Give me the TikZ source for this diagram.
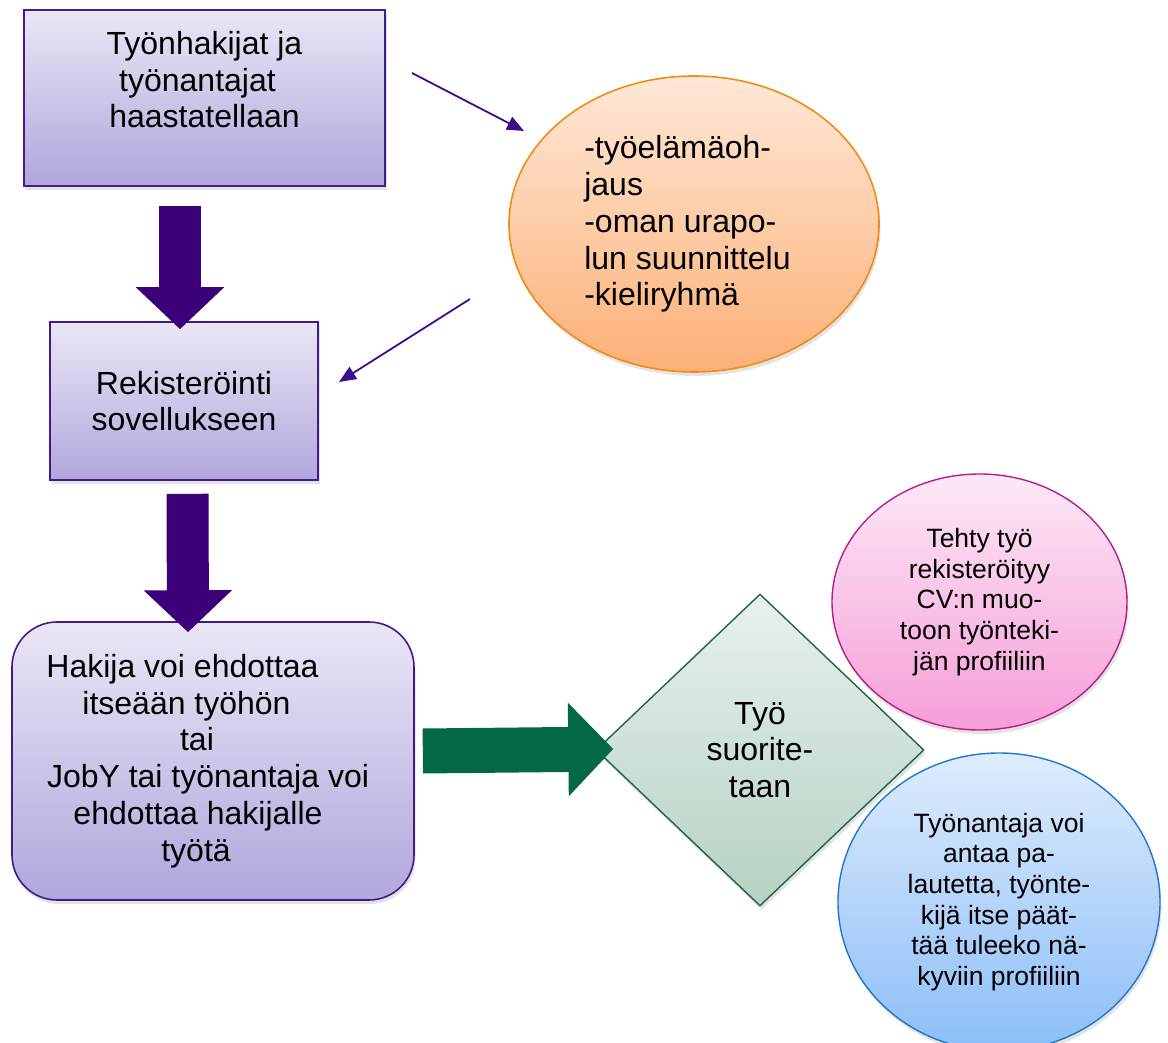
\documentclass[tikz,border=0pt]{standalone}
\usepackage{fontspec}
\setmainfont{Liberation Sans}
\usetikzlibrary{shapes.geometric,arrows.meta,shadows}
\definecolor{boxtop}{RGB}{234,230,246}
\definecolor{boxbot}{RGB}{178,166,220}
\definecolor{boxborder}{RGB}{66,26,140}
\definecolor{arrpurple}{RGB}{60,0,120}
\definecolor{thinpurple}{RGB}{62,12,140}
\definecolor{ortop}{RGB}{254,232,216}
\definecolor{orbot}{RGB}{252,176,118}
\definecolor{orborder}{RGB}{240,140,20}
\definecolor{dmtop}{RGB}{232,241,236}
\definecolor{dmbot}{RGB}{180,210,194}
\definecolor{dmborder}{RGB}{30,100,70}
\definecolor{grarrow}{RGB}{3,104,69}
\definecolor{pktop}{RGB}{253,232,246}
\definecolor{pkbot}{RGB}{246,158,216}
\definecolor{pkborder}{RGB}{180,30,140}
\definecolor{bltop}{RGB}{222,235,252}
\definecolor{blbot}{RGB}{140,190,248}
\definecolor{blborder}{RGB}{30,120,200}
\newcommand\bigtxt{\fontsize{32pt}{36.8pt}\selectfont}
\newcommand\smalltxt{\fontsize{26.5pt}{30.6pt}\selectfont}
\newcommand\ls[1]{\hspace*{-#1pt}}
\newcommand\rs[1]{\hspace*{#1pt}\mbox{}}
\begin{document}
\begin{tikzpicture}[x=1pt,y=-1pt,
  shad/.style={drop shadow={shadow xshift=1.5pt,shadow yshift=-4pt,opacity=0.22}},
  pbox/.style={rectangle,draw=boxborder,line width=1.6pt,top color=boxtop,bottom color=boxbot,shad,
    align=center,font=\bigtxt,inner sep=0pt},
  orangeoval/.style={ellipse,draw=orborder,line width=1.6pt,top color=ortop,bottom color=orbot,shad,
    align=left,font=\bigtxt,inner sep=0pt},
  decision/.style={diamond,draw=dmborder,line width=1.4pt,top color=dmtop,bottom color=dmbot,shad,
    align=center,font=\bigtxt,inner sep=0pt},
  pinkoval/.style={ellipse,draw=pkborder,line width=1.4pt,top color=pktop,bottom color=pkbot,shad,
    align=center,font=\smalltxt,inner sep=0pt},
  blueoval/.style={ellipse,draw=blborder,line width=1.4pt,top color=bltop,bottom color=blbot,shad,
    align=center,font=\smalltxt,inner sep=0pt},
  bigpurple/.style={draw=arrpurple,line width=42pt,-{Triangle[width=86pt,length=42pt,fill=arrpurple]}},
  biggreen/.style={draw=grarrow,line width=45pt,-{Triangle[width=91pt,length=45pt,fill=grarrow]}},
  thinarrow/.style={draw=thinpurple,line width=1.8pt,-{Triangle[width=14pt,length=17pt]}}
]
\useasboundingbox (0,0) rectangle (1168,1043);

\node[pbox,minimum width=361pt,minimum height=176pt] (b1) at (204.5,98)
  {Työnhakijat ja\\työnantajat\rs{14}\\haastatellaan\\\mbox{}};
\node[pbox,minimum width=268pt,minimum height=158pt] (b2) at (184,401)
  {Rekisteröinti\\sovellukseen};
\node[pbox,rounded corners=45pt,minimum width=402pt,minimum height=278pt] (b3) at (213,761)
  {\ls{61}Hakija voi ehdottaa\\\ls{53}itseään työhön\\\ls{32}tai\\\ls{10}JobY tai työnantaja voi\\\ls{30}ehdottaa hakijalle\\\ls{34}työtä};

\node[orangeoval,minimum width=370pt,minimum height=296pt] (ov) at (694,224)
  {-työelämäoh-\\jaus\\-oman urapo-\\lun suunnittelu\rs{13}\\-kieliryhmä};

\node[decision,minimum width=328pt,minimum height=312pt] (dia) at (760,750)
  {Työ\\suorite-\\taan};

\node[pinkoval,minimum width=295pt,minimum height=256pt] (pk) at (979.5,602)
  {Tehty työ\\rekisteröityy\\CV:n muo-\\toon työnteki-\\jän profiiliin};
\node[blueoval,minimum width=322pt,minimum height=298pt] (bl) at (999,902)
  {Työnantaja voi\\antaa pa-\\lautetta, työnte-\\kijä itse päät-\\tää tuleeko nä-\\kyviin profiiliin};

% thick connectors
\draw[bigpurple] ([xshift=-24.5pt,yshift=-19pt]b1.south) -- ([xshift=-4pt,yshift=-8pt]b2.north);
\draw[bigpurple] ([xshift=3.5pt,yshift=-13pt]b2.south) -- ([xshift=-25pt,yshift=-11pt]b3.north);
\draw[biggreen] ([xshift=8pt,yshift=10pt]b3.east) -- ([xshift=18pt,yshift=1pt]dia.west);

% thin arrows with free ends
\coordinate (t1s) at (412,73);
\coordinate (t1e) at (524,131);
\coordinate (t2s) at (470,299);
\coordinate (t2e) at (339,382);
\draw[thinarrow] (t1s) -- (t1e);
\draw[thinarrow] (t2s) -- (t2e);
\end{tikzpicture}
\end{document}
